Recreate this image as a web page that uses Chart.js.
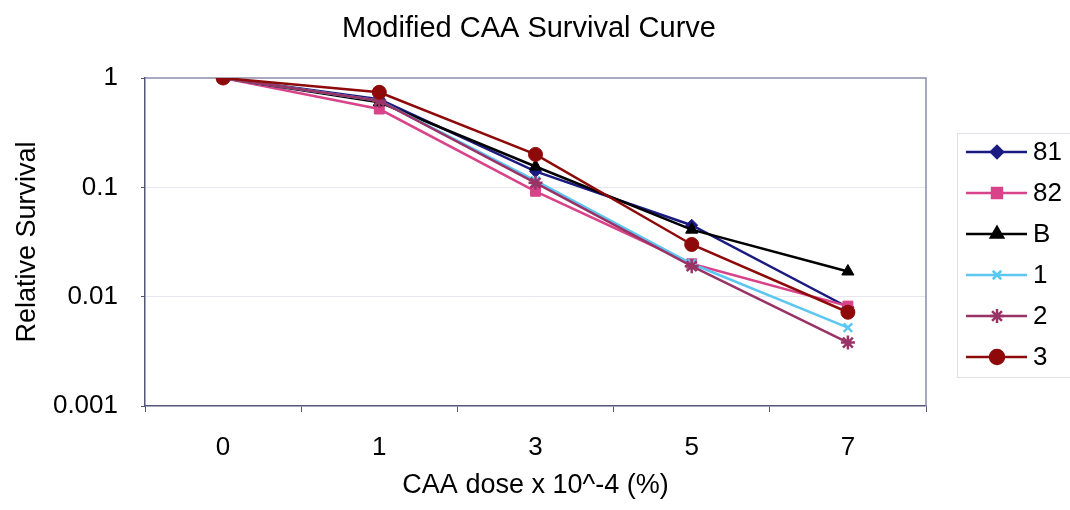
<!DOCTYPE html>
<html lang="en">
<head>
    <meta charset="UTF-8">
    <title>Modified CAA Survival Curve</title>
    <script src="https://cdn.jsdelivr.net/npm/chart.js@4"></script>
    <style>
        html, body { margin: 0; padding: 0; background: #fff; }
        #wrap { width: 1070px; height: 510px; }
    </style>
</head>
<body>
    <div id="wrap"><canvas id="survivalChart" width="1070" height="510"></canvas></div>

    <script>
        // data
        const doses = ["0", "1", "3", "5", "7"];
        const seriesNames = ["81", "82", "B", "1", "2", "3"];
        const s81 = [1, 0.64, 0.14, 0.045, 0.008];
        const s82 = [1, 0.52, 0.092, 0.020, 0.0082];
        const sB  = [1, 0.60, 0.155, 0.041, 0.017];
        const s1  = [1, 0.62, 0.115, 0.020, 0.0052];
        const s2  = [1, 0.62, 0.11, 0.019, 0.0038];
        const s3  = [1, 0.74, 0.20, 0.030, 0.0072];
        const yTicks = [0.001, 0.01, 0.1, 1];
        const chartTitle = "Modified CAA Survival Curve";

        const FONT = "'Liberation Sans', Arial, sans-serif";
        const colors = ["#1a1a80", "#d9438a", "#000000", "#5cc8f2", "#993366", "#8e0a0a"];
        const shapes = ["rectRot", "rect", "triangle", "crossRot", "star", "circle"];
        const radii = [6, 7, 7, 6, 7, 7];
        const allData = [s81, s82, sB, s1, s2, s3];

        const datasets = allData.map((d, i) => ({
            label: seriesNames[i],
            data: d,
            borderColor: colors[i],
            backgroundColor: colors[i],
            borderWidth: 2.5,
            pointStyle: shapes[i],
            pointRadius: radii[i],
            pointBorderWidth: shapes[i] === "crossRot" || shapes[i] === "star" ? 2.5 : 1,
            pointBorderColor: colors[i],
            pointBackgroundColor: colors[i],
            tension: 0,
            fill: false,
            order: allData.length - i
        }));

        // title, frame round the plot area and legend box on the right
        const framePlugin = {
            id: "frame",
            beforeDatasetsDraw(chart) {
                const a = chart.chartArea;
                const ctx = chart.ctx;
                ctx.save();
                ctx.strokeStyle = "#8c8cab";
                ctx.lineWidth = 1.5;
                ctx.beginPath();
                ctx.moveTo(a.left, a.top);
                ctx.lineTo(a.right, a.top);
                ctx.lineTo(a.right, a.bottom);
                ctx.stroke();
                ctx.restore();
            },
            afterDraw(chart) {
                const ctx = chart.ctx;
                ctx.save();
                ctx.fillStyle = "#000";
                ctx.font = "29px " + FONT;
                ctx.textAlign = "center";
                ctx.textBaseline = "middle";
                ctx.fillText(chartTitle, 529, 29);

                ctx.strokeStyle = "#e0e0e6";
                ctx.lineWidth = 1;
                ctx.strokeRect(957.5, 133.5, 130, 244);
                chart.data.datasets.forEach((ds, i) => {
                    const y = 152 + i * 41;
                    ctx.strokeStyle = ds.borderColor;
                    ctx.fillStyle = ds.backgroundColor;
                    ctx.lineWidth = 2.5;
                    ctx.beginPath();
                    ctx.moveTo(966, y);
                    ctx.lineTo(1027, y);
                    ctx.stroke();
                    Chart.helpers.drawPoint(ctx, {
                        pointStyle: ds.pointStyle,
                        radius: ds.pointRadius,
                        rotation: 0,
                        borderWidth: ds.pointBorderWidth
                    }, 997, y);
                    ctx.fillStyle = "#000";
                    ctx.font = "26px " + FONT;
                    ctx.textBaseline = "middle";
                    ctx.textAlign = "left";
                    ctx.fillText(ds.label, 1033, y + 1);
                });
                ctx.restore();
            }
        };

        const ctx = document.getElementById("survivalChart").getContext("2d");
        new Chart(ctx, {
            type: "line",
            data: { labels: doses, datasets: datasets },
            plugins: [framePlugin],
            options: {
                responsive: false,
                animation: false,
                layout: { padding: { left: 0, right: 144, top: 78, bottom: 0 } },
                plugins: {
                    legend: { display: false },
                    tooltip: { enabled: false },
                    title: { display: false }
                },
                scales: {
                    x: {
                        type: "category",
                        offset: true,
                        afterFit(scale) { scale.height = 104; },
                        grid: {
                            offset: true,
                            drawOnChartArea: false,
                            drawTicks: true,
                            tickLength: 6,
                            color: "#55557a"
                        },
                        border: { display: true, color: "#55557a", width: 1.5 },
                        ticks: {
                            color: "#000",
                            padding: 20,
                            font: { family: FONT, size: 26 }
                        },
                        title: {
                            display: true,
                            text: "CAA dose x 10^-4 (%)",
                            color: "#000",
                            font: { family: FONT, size: 27 },
                            padding: { top: 0, bottom: 8 }
                        }
                    },
                    y: {
                        type: "logarithmic",
                        min: 0.001,
                        max: 1,
                        afterFit(scale) { scale.width = 145; },
                        afterBuildTicks(scale) {
                            scale.ticks = yTicks.map(v => ({ value: v }));
                        },
                        grid: {
                            color: (c) => c.tick && (c.tick.value === 0.1 || c.tick.value === 0.01) ? "#e6e6ee" : "rgba(0,0,0,0)",
                            drawTicks: true,
                            tickLength: 4,
                            tickColor: "#55557a"
                        },
                        border: { display: true, color: "#55557a", width: 1.5 },
                        ticks: {
                            color: "#000",
                            padding: 23,
                            font: { family: FONT, size: 26 },
                            callback: (v) => String(v)
                        },
                        title: {
                            display: true,
                            text: "Relative Survival",
                            color: "#000",
                            font: { family: FONT, size: 27 },
                            padding: { top: 11, bottom: 0 }
                        }
                    }
                }
            }
        });
    </script>
</body>
</html>
